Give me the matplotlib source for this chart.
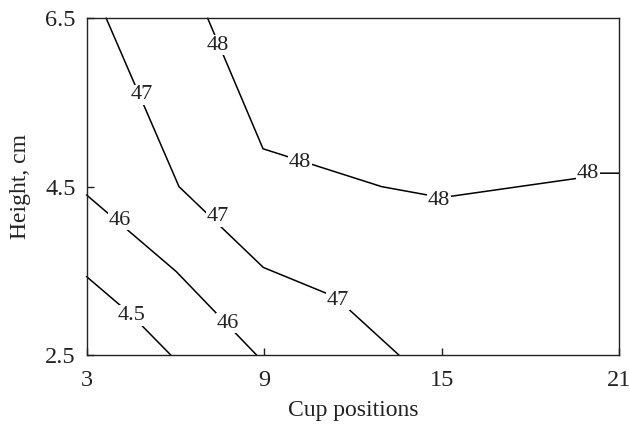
import matplotlib.pyplot as plt

plt.rcParams['font.family'] = ['Liberation Serif', 'DejaVu Serif']

# contour lines (cup position, height in cm)
x_455 = [3.0, 4.5, 5.84]
y_455 = [3.43, 2.98, 2.5]

x_46 = [3.0, 6.03, 8.74]
y_46 = [4.40, 3.49, 2.5]

x_47 = [3.66, 6.12, 8.97, 11.4, 13.55]
y_47 = [6.5, 4.5, 3.54, 3.19, 2.5]

x_48 = [7.09, 8.96, 12.97, 15.0, 19.6, 20.3, 21.0]
y_48 = [6.5, 4.95, 4.5, 4.37, 4.60, 4.66, 4.66]

# inline labels (text, x, y)
labels = [
    ('4.5', 4.52, 2.97),
    ('46', 4.13, 4.10),
    ('46', 7.78, 2.88),
    ('47', 4.86, 5.59),
    ('47', 7.44, 4.14),
    ('47', 11.5, 3.15),
    ('48', 7.44, 6.18),
    ('48', 10.2, 4.79),
    ('48', 14.9, 4.34),
    ('48', 19.95, 4.66),
]

xticks = [3, 9, 15, 21]
yticks = [2.5, 4.5, 6.5]

fig = plt.figure(figsize=(6.3, 4.28), dpi=100)
ax = fig.add_axes([0.1376, 0.1706, 0.8454, 0.7866])

for xs, ys in [(x_455, y_455), (x_46, y_46), (x_47, y_47), (x_48, y_48)]:
    ax.plot(xs, ys, color='black', linewidth=1.1, clip_on=False)

for txt, lx, ly in labels:
    ax.text(lx, ly, txt, fontsize=16, ha='center', va='center', color='#222222',
            bbox=dict(facecolor='white', edgecolor='none', pad=0.5))

ax.set_xlim(3, 21)
ax.set_ylim(2.5, 6.5)
ax.set_xticks(xticks)
ax.set_xticklabels([str(t) for t in xticks])
ax.set_yticks(yticks)
ax.set_yticklabels([str(t) for t in yticks])
ax.tick_params(direction='in', length=5, width=1.0, labelsize=17.5,
               colors='#222222')
ax.tick_params(axis='x', pad=11)
ax.tick_params(axis='y', pad=8)
for s in ax.spines.values():
    s.set_linewidth(1.0)
    s.set_color('#222222')

ax.set_xlabel('Cup positions', fontsize=17, color='#222222', labelpad=6)
ax.set_ylabel('Height, cm', fontsize=17, color='#222222', labelpad=10)

fig.savefig('out.png', dpi=100)
